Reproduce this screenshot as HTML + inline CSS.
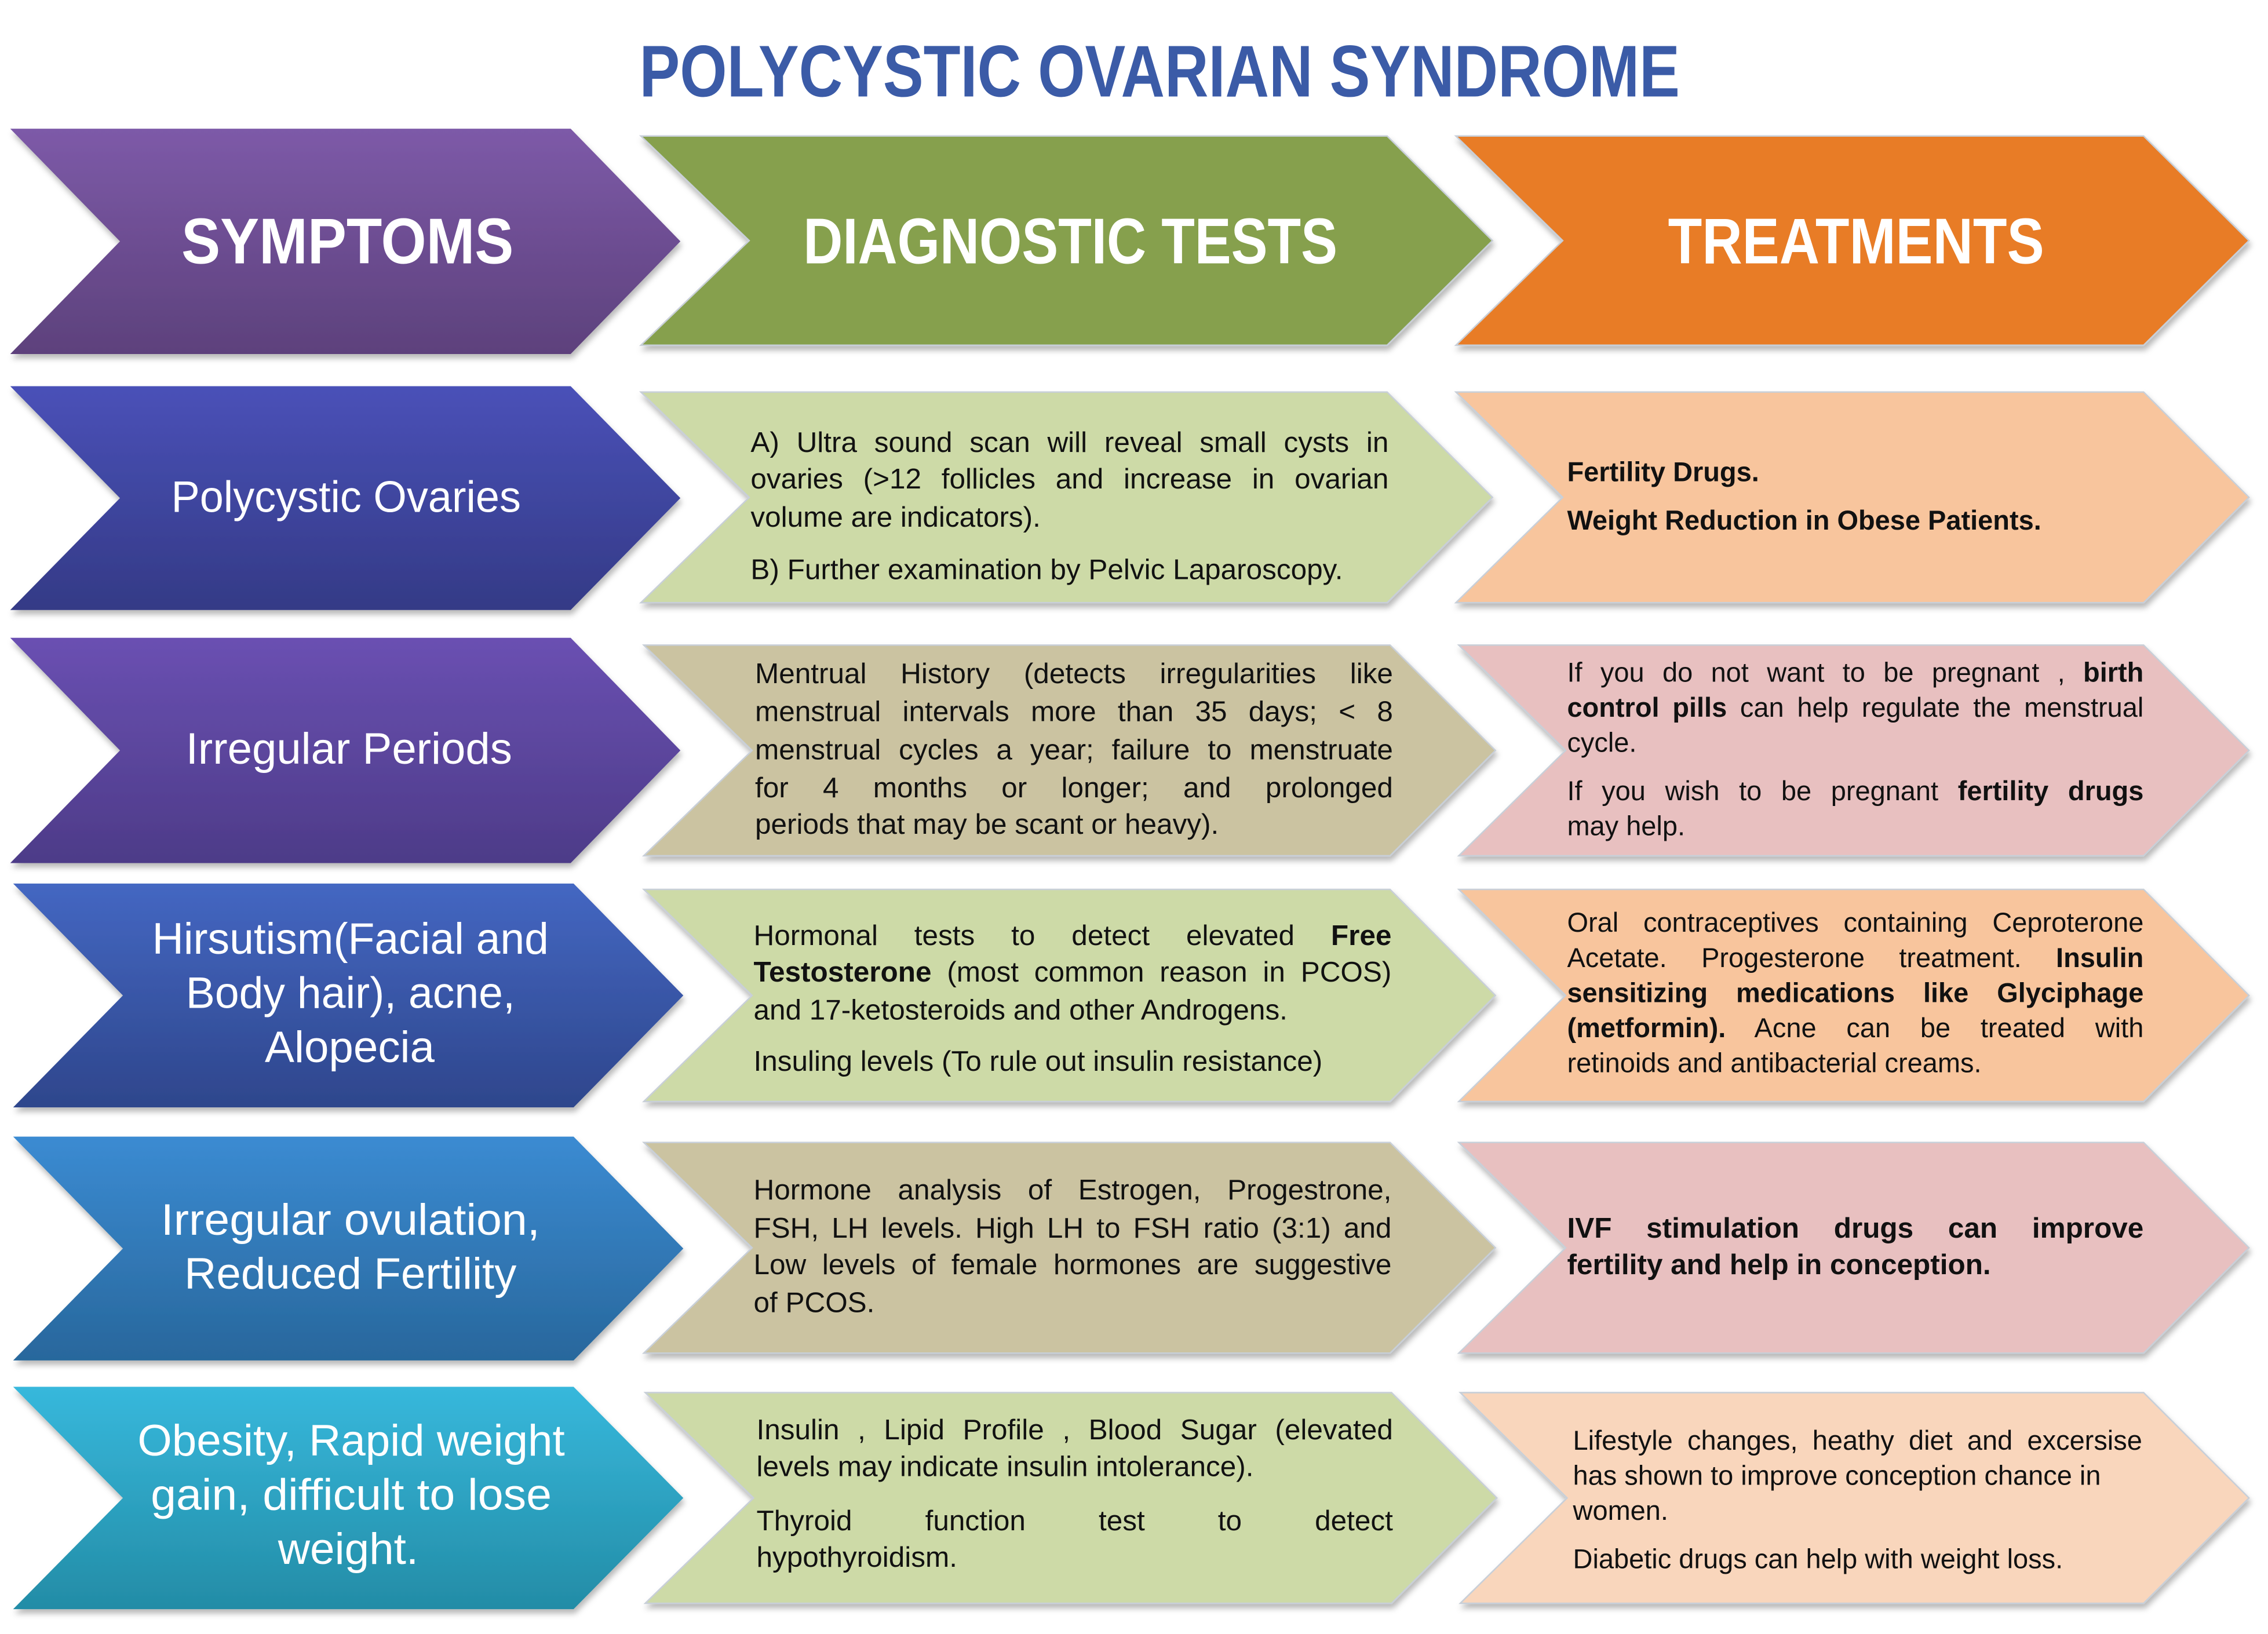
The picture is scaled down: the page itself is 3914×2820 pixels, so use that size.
<!DOCTYPE html>
<html><head><meta charset="utf-8">
<style>
html,body{margin:0;padding:0;background:#fff;}
body{width:3914px;height:2820px;overflow:hidden;position:relative;}
#c{position:absolute;left:0;top:0;width:1550px;height:1117px;transform-origin:0 0;transform:scale(2.52516,2.52462);font-family:"Liberation Sans",sans-serif;}
svg{position:absolute;left:0;top:0;}
.l{position:absolute;white-space:nowrap;font-size:19.6px;line-height:24px;height:24px;color:#111;}
.j{text-align:justify;text-align-last:justify;}
.s{font-size:18.6px;}
b{font-weight:bold;}
</style></head><body><div id="c">
<svg width="1550" height="1117" viewBox="0 0 1550 1117">
<defs>
<filter id="sh" x="-5%" y="-5%" width="110%" height="115%"><feDropShadow dx="1" dy="3" stdDeviation="2" flood-color="#000" flood-opacity="0.28"/></filter>
<linearGradient id="g0" x1="0" y1="0" x2="0" y2="1"><stop offset="0" stop-color="#7d5aa8"/><stop offset="1" stop-color="#5d417c"/></linearGradient>
<linearGradient id="g1" x1="0" y1="0" x2="0" y2="1"><stop offset="0" stop-color="#4a51b8"/><stop offset="1" stop-color="#343a86"/></linearGradient>
<linearGradient id="g2" x1="0" y1="0" x2="0" y2="1"><stop offset="0" stop-color="#6a50b2"/><stop offset="1" stop-color="#4d3b88"/></linearGradient>
<linearGradient id="g3" x1="0" y1="0" x2="0" y2="1"><stop offset="0" stop-color="#4467c2"/><stop offset="1" stop-color="#2e468c"/></linearGradient>
<linearGradient id="g4" x1="0" y1="0" x2="0" y2="1"><stop offset="0" stop-color="#3b8bd2"/><stop offset="1" stop-color="#28679c"/></linearGradient>
<linearGradient id="g5" x1="0" y1="0" x2="0" y2="1"><stop offset="0" stop-color="#37b8dc"/><stop offset="1" stop-color="#238ca6"/></linearGradient>
</defs>
<g filter="url(#sh)">
<polygon points="7,88 390,88 465,165 390,242 7,242 82,165" fill="url(#g0)"/>
<polygon points="438,93 948,93 1020,164.5 948,236 438,236 512,164.5" fill="#86a04d" stroke="#c8cfd8" stroke-width="1"/>
<polygon points="995,93 1465,93 1537,164.5 1465,236 995,236 1068,164.5" fill="#e87c26" stroke="#c8cfd8" stroke-width="1"/>

<polygon points="7,264 390,264 465,340.5 390,417 7,417 82,340.5" fill="url(#g1)"/>
<polygon points="438,268 948,268 1020,340 948,412 438,412 512,340" fill="#cddaa7" stroke="#c8cfd8" stroke-width="1"/>
<polygon points="995,268 1465,268 1537,340 1465,412 995,412 1068,340" fill="#f8c59d" stroke="#c8cfd8" stroke-width="1"/>

<polygon points="7,436 390,436 465,513 390,590 7,590 82,513" fill="url(#g2)"/>
<polygon points="440,441 950,441 1022,513 950,585 440,585 514,513" fill="#cbc3a1" stroke="#c8cfd8" stroke-width="1"/>
<polygon points="997,441 1465,441 1537,513 1465,585 997,585 1070,513" fill="#e8c0c0" stroke="#c8cfd8" stroke-width="1"/>

<polygon points="9,604 392,604 467,680.5 392,757 9,757 84,680.5" fill="url(#g3)"/>
<polygon points="440,608 950,608 1022,680.5 950,753 440,753 514,680.5" fill="#cddaa7" stroke="#c8cfd8" stroke-width="1"/>
<polygon points="997,608 1465,608 1537,680.5 1465,753 997,753 1070,680.5" fill="#f8c59d" stroke="#c8cfd8" stroke-width="1"/>

<polygon points="9,777 392,777 467,853.5 392,930 9,930 84,853.5" fill="url(#g4)"/>
<polygon points="440,781 950,781 1022,853 950,925 440,925 514,853" fill="#cbc3a1" stroke="#c8cfd8" stroke-width="1"/>
<polygon points="997,781 1465,781 1537,853 1465,925 997,925 1070,853" fill="#e8c0c0" stroke="#c8cfd8" stroke-width="1"/>

<polygon points="9,948 392,948 467,1024 392,1100 9,1100 84,1024" fill="url(#g5)"/>
<polygon points="441,952 951,952 1023,1024 951,1096 441,1096 515,1024" fill="#cddaa7" stroke="#c8cfd8" stroke-width="1"/>
<polygon points="998,952 1465,952 1537,1024 1465,1096 998,1096 1071,1024" fill="#f9d6bc" stroke="#c8cfd8" stroke-width="1"/>
</g>
<g font-family="Liberation Sans, sans-serif">
<text x="437" y="66" font-size="50" font-weight="bold" fill="#3b5ba7" textLength="711" lengthAdjust="spacingAndGlyphs">POLYCYSTIC OVARIAN SYNDROME</text>
<g fill="#fff" font-weight="bold" font-size="44">
<text x="124" y="180" textLength="227" lengthAdjust="spacingAndGlyphs">SYMPTOMS</text>
<text x="549" y="180" textLength="365" lengthAdjust="spacingAndGlyphs">DIAGNOSTIC TESTS</text>
<text x="1140" y="180" textLength="257" lengthAdjust="spacingAndGlyphs">TREATMENTS</text>
</g>
<g fill="#fff" font-size="30">
<text x="117" y="350" textLength="239" lengthAdjust="spacingAndGlyphs">Polycystic Ovaries</text>
<text x="127" y="522" textLength="223" lengthAdjust="spacingAndGlyphs">Irregular Periods</text>
<text x="104" y="652" textLength="271" lengthAdjust="spacingAndGlyphs">Hirsutism(Facial and</text>
<text x="127" y="689" textLength="225" lengthAdjust="spacingAndGlyphs">Body hair), acne,</text>
<text x="181" y="726" textLength="116" lengthAdjust="spacingAndGlyphs">Alopecia</text>
<text x="110" y="844" textLength="259" lengthAdjust="spacingAndGlyphs">Irregular ovulation,</text>
<text x="126" y="881" textLength="227" lengthAdjust="spacingAndGlyphs">Reduced Fertility</text>
<text x="94" y="995" textLength="292" lengthAdjust="spacingAndGlyphs">Obesity, Rapid weight</text>
<text x="103" y="1032" textLength="274" lengthAdjust="spacingAndGlyphs">gain, difficult to lose</text>
<text x="190" y="1069" textLength="96" lengthAdjust="spacingAndGlyphs">weight.</text>
</g>
</g>
</svg>

<!-- Diag row1 -->
<div class="l j" style="left:513px;top:291px;width:436px">A) Ultra sound scan will reveal small cysts in</div>
<div class="l j" style="left:513px;top:316px;width:436px">ovaries (&gt;12 follicles and increase in ovarian</div>
<div class="l" style="left:513px;top:342px">volume are indicators).</div>
<div class="l" style="left:513px;top:378px">B) Further examination by Pelvic Laparoscopy.</div>
<!-- Treat row1 -->
<div class="l s" style="left:1071px;top:311px"><b>Fertility Drugs.</b></div>
<div class="l s" style="left:1071px;top:344px"><b>Weight Reduction in Obese Patients.</b></div>

<!-- Diag row2 -->
<div class="l j" style="left:516px;top:449px;width:436px">Mentrual History (detects irregularities like</div>
<div class="l j" style="left:516px;top:475px;width:436px">menstrual intervals more than 35 days; &lt; 8</div>
<div class="l j" style="left:516px;top:501px;width:436px">menstrual cycles a year; failure to menstruate</div>
<div class="l j" style="left:516px;top:527px;width:436px">for 4 months or longer; and prolonged</div>
<div class="l" style="left:516px;top:552px">periods that may be scant or heavy).</div>
<!-- Treat row2 -->
<div class="l s j" style="left:1071px;top:448px;width:394px">If you do not want to be pregnant , <b>birth</b></div>
<div class="l s j" style="left:1071px;top:472px;width:394px"><b>control pills</b> can help regulate the menstrual</div>
<div class="l s" style="left:1071px;top:496px">cycle.</div>
<div class="l s j" style="left:1071px;top:529px;width:394px">If you wish to be pregnant <b>fertility drugs</b></div>
<div class="l s" style="left:1071px;top:553px">may help.</div>

<!-- Diag row3 -->
<div class="l j" style="left:515px;top:628px;width:436px">Hormonal tests to detect elevated <b>Free</b></div>
<div class="l j" style="left:515px;top:653px;width:436px"><b>Testosterone</b> (most common reason in PCOS)</div>
<div class="l" style="left:515px;top:679px">and 17-ketosteroids and other Androgens.</div>
<div class="l" style="left:515px;top:714px">Insuling levels (To rule out insulin resistance)</div>
<!-- Treat row3 -->
<div class="l s j" style="left:1071px;top:619px;width:394px">Oral contraceptives containing Ceproterone</div>
<div class="l s j" style="left:1071px;top:643px;width:394px">Acetate. Progesterone treatment. <b>Insulin</b></div>
<div class="l s j" style="left:1071px;top:667px;width:394px"><b>sensitizing medications like Glyciphage</b></div>
<div class="l s j" style="left:1071px;top:691px;width:394px"><b>(metformin).</b> Acne can be treated with</div>
<div class="l s" style="left:1071px;top:715px">retinoids and antibacterial creams.</div>

<!-- Diag row4 -->
<div class="l j" style="left:515px;top:802px;width:436px">Hormone analysis of Estrogen, Progestrone,</div>
<div class="l j" style="left:515px;top:828px;width:436px">FSH, LH levels. High LH to FSH ratio (3:1) and</div>
<div class="l j" style="left:515px;top:853px;width:436px">Low levels of female hormones are suggestive</div>
<div class="l" style="left:515px;top:879px">of PCOS.</div>
<!-- Treat row4 -->
<div class="l j" style="left:1071px;top:828px;width:394px"><b>IVF stimulation drugs can improve</b></div>
<div class="l" style="left:1071px;top:853px"><b>fertility and help in conception.</b></div>

<!-- Diag row5 -->
<div class="l j" style="left:517px;top:966px;width:435px">Insulin , Lipid Profile , Blood Sugar (elevated</div>
<div class="l" style="left:517px;top:991px">levels may indicate insulin intolerance).</div>
<div class="l j" style="left:517px;top:1028px;width:435px">Thyroid function test to detect</div>
<div class="l" style="left:517px;top:1053px">hypothyroidism.</div>
<!-- Treat row5 -->
<div class="l s j" style="left:1075px;top:973px;width:389px">Lifestyle changes, heathy diet and excersise</div>
<div class="l s" style="left:1075px;top:997px">has shown to improve conception chance in</div>
<div class="l s" style="left:1075px;top:1021px">women.</div>
<div class="l s" style="left:1075px;top:1054px">Diabetic drugs can help with weight loss.</div>
</div></body></html>
